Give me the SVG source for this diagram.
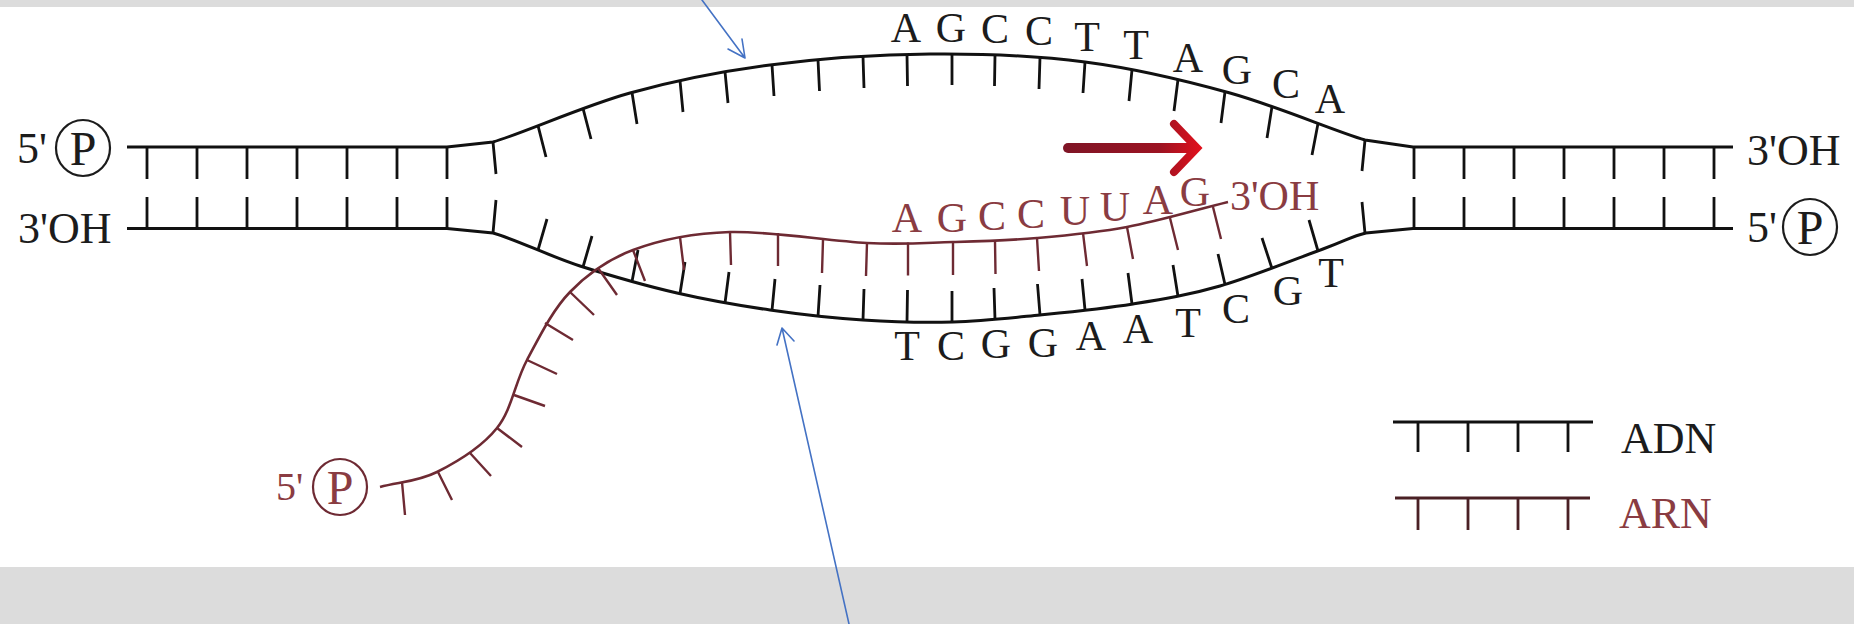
<svg xmlns="http://www.w3.org/2000/svg" width="1854" height="624" viewBox="0 0 1854 624">
  <defs>
    <style>
      .dna { stroke: #111; stroke-width: 3; fill: none; }
      .tick { stroke: #111; stroke-width: 2.8; fill: none; }
      .rna { stroke: #6e2a33; stroke-width: 2.6; fill: none; }
      .rtick { stroke: #6e2a33; stroke-width: 2.4; fill: none; }
      .txt { font-family: "Liberation Serif", "Times New Roman", serif; font-size: 44px; fill: #1c1c1c; }
      .seq { font-size: 42px; text-anchor: middle; }
      .red { fill: #8a3c42; }
      .pcirc { fill: none; stroke: #1c1c1c; stroke-width: 2.2; }
      .pcirc-r { fill: none; stroke: #6e2a33; stroke-width: 2.2; }
      .ptr { stroke: #4472c4; stroke-width: 1.6; fill: none; stroke-linecap: round; stroke-linejoin: round; }
      .band { fill: #dcdcdc; }
    </style>
    <linearGradient id="redArrow" gradientUnits="userSpaceOnUse" x1="1062" y1="0" x2="1202" y2="0">
      <stop offset="0" stop-color="#7e1526"/>
      <stop offset="0.7" stop-color="#9c1322"/>
      <stop offset="1" stop-color="#e3101c"/>
    </linearGradient>
  </defs>

  <!-- page -->
  <rect x="0" y="0" width="1854" height="624" fill="#ffffff"/>
  <rect class="band" x="0" y="0" width="1854" height="7"/>
  <rect class="band" x="0" y="567" width="1854" height="57"/>

  <!-- DNA double helix with open transcription bubble -->
  <g id="dna">
    <!-- coding strand (top) -->
    <path class="dna" d="M127,147 H447 L493,142 C523.5,133 583.8,105.8 630,93 C676.2,80.2 720,71.5 770,65 C820,58.5 877.5,54.5 930,54 C982.5,53.5 1035,55.5 1085,62 C1135,68.5 1183.3,80 1230,93 C1276.7,106 1334.5,131 1365,140 L1413,147 H1733"/>
    <!-- template strand (bottom) -->
    <path class="dna" d="M127,228.5 H447 L493,233 C515.2,239.3 549.3,256 580,266 C611.7,276 645.3,285.7 677,293 C708.7,300.3 739,305.5 770,310 C801,314.5 832.5,318 863,320 C893.5,322 923.5,322.8 953,322 C982.5,321.2 1010,318 1040,315 C1070,312 1103,308.8 1133,304 C1163,299.2 1188.3,295.2 1220,286 C1251.7,276.8 1298.7,257.8 1323,249 C1347.3,240.2 1351,236.5 1366,233 L1413,228.5 H1733"/>
    <!-- paired rungs, left and right duplex -->
    <path class="tick" d="M147,147 V179 M197,147 V179 M247,147 V179 M297,147 V179 M347,147 V179 M397,147 V179 M447,147 V179
      M147,228.5 V197 M197,228.5 V197 M247,228.5 V197 M297,228.5 V197 M347,228.5 V197 M397,228.5 V197 M447,228.5 V197
      M1414,147 V179 M1464,147 V179 M1514,147 V179 M1564,147 V179 M1614,147 V179 M1664,147 V179 M1714,147 V179
      M1414,228.5 V197 M1464,228.5 V197 M1514,228.5 V197 M1564,228.5 V197 M1614,228.5 V197 M1664,228.5 V197 M1714,228.5 V197"/>
    <!-- bases on the top strand inside the bubble -->
    <path class="tick" d="M493,142 L496,174 M538,125.7 L546,157 M583,108.3 L591,139 M632,92.5 L637,124 M680,80.7 L683,112 M725,71.6 L728,103 M772,64.8 L774,96 M818,59.8 L819.5,91 M863,56.5 L864,88 M907,54.7 L907.5,86 M952,54.2 L952,85 M995,55 L994.5,86 M1040,57.5 L1039,89 M1085,62 L1083,93 M1132,69.7 L1129,101 M1178,79.5 L1174,111 M1225,91.7 L1221,123 M1272,106.6 L1267,138 M1318,123.4 L1312,155 M1365,140 L1362,171"/>
    <!-- bases on the bottom strand inside the bubble -->
    <path class="tick" d="M493,233 L496,200 M538,250 L547,219 M583,267 L592,236 M632,281.5 L638,250 M680,293.5 L685,262 M725,303 L729,272 M772,310.3 L775,279 M818,316.5 L820,285 M863,320 L864,289 M907,321.7 L907.5,290 M952,322 L952,291 M995,319.5 L994,288 M1040,315 L1037.5,284 M1085,310 L1082,279 M1132,304 L1128,273 M1178,296.5 L1173,265 M1225,284.5 L1218,254 M1272,268.5 L1262,238 M1318,251 L1309,220 M1365,233.3 L1362,202"/>
  </g>

  <!-- nascent RNA strand -->
  <g id="rna">
    <path class="rna" d="M380,487 C399,482 417.5,481.8 437,472 C456.5,462.2 482,446.7 497,428 C512,409.3 514.8,382.7 527,360 C539.2,337.3 552.3,310.3 570,292 C587.7,273.7 606.3,260 633,250 C659.7,240 691,233.2 730,232 C769,230.8 829.8,241.3 867,243 C904.2,244.7 924.7,242.8 953,242 C981.3,241.2 1008,240.5 1037,238 C1066,235.5 1095.2,233 1127,227 C1158.8,221 1194.3,210.3 1228,202"/>
    <path class="rtick" d="M402,482 L405,515 M438,472 L452,500 M470,453 L491,476 M497,428 L522,447 M514,395 L545,406 M527,360 L557,374 M545,323 L573,340 M570,292 L594,315 M598,268 L617,295 M633,250 L645,281 M680,237 L684,270 M730,232 L731,265 M778,233 L778,266 M823,240 L822,273 M867,243 L866,276 M908,242.5 L908,275.5 M953,242 L953,275 M995,241 L995.5,274 M1037,238 L1039,271 M1083,233 L1087,266 M1127,227 L1133,259 M1170,218 L1178,250 M1213,207 L1221,239"/>
  </g>

  <!-- strand ends -->
  <g id="ends-left" class="txt">
    <text x="17" y="163">5'</text>
    <ellipse class="pcirc" cx="83" cy="148" rx="27" ry="28"/>
    <text x="83" y="165" font-size="48" text-anchor="middle">P</text>
    <text x="18" y="243">3'OH</text>
  </g>
  <g id="ends-right" class="txt">
    <text x="1747" y="165">3'OH</text>
    <text x="1747" y="242">5'</text>
    <ellipse class="pcirc" cx="1810" cy="227" rx="27" ry="28"/>
    <text x="1810" y="244" font-size="48" text-anchor="middle">P</text>
  </g>
  <g id="ends-rna" class="txt red">
    <text x="276" y="500" font-size="40">5'</text>
    <ellipse class="pcirc-r" cx="340" cy="487" rx="27" ry="28"/>
    <text x="340" y="504" font-size="48" text-anchor="middle">P</text>
    <text x="1230" y="210" font-size="42">3'OH</text>
  </g>

  <!-- base letters -->
  <g id="seq-top" class="txt seq">
    <text x="906" y="42">A</text>
    <text x="951" y="42">G</text>
    <text x="995" y="43">C</text>
    <text x="1039" y="45">C</text>
    <text x="1087" y="51">T</text>
    <text x="1136" y="59">T</text>
    <text x="1188" y="72">A</text>
    <text x="1237" y="84">G</text>
    <text x="1286" y="98">C</text>
    <text x="1330" y="113">A</text>
  </g>
  <g id="seq-bottom" class="txt seq">
    <text x="907" y="360">T</text>
    <text x="951" y="360">C</text>
    <text x="996" y="358">G</text>
    <text x="1043" y="357">G</text>
    <text x="1091" y="350">A</text>
    <text x="1138" y="343">A</text>
    <text x="1188" y="337">T</text>
    <text x="1236" y="323">C</text>
    <text x="1288" y="305">G</text>
    <text x="1331" y="287">T</text>
  </g>
  <g id="seq-rna" class="txt seq red">
    <text x="907" y="232">A</text>
    <text x="952" y="232">G</text>
    <text x="992" y="230">C</text>
    <text x="1031" y="228">C</text>
    <text x="1075" y="225">U</text>
    <text x="1115" y="221">U</text>
    <text x="1158" y="214">A</text>
    <text x="1195" y="206">G</text>
  </g>

  <!-- direction of transcription -->
  <g id="direction">
    <line x1="1068" y1="148" x2="1191" y2="148" stroke="url(#redArrow)" stroke-width="10" stroke-linecap="round"/>
    <polyline points="1174,124 1197,148 1174,172" fill="none" stroke="url(#redArrow)" stroke-width="8" stroke-linecap="round" stroke-linejoin="miter"/>
  </g>

  <!-- legend -->
  <g id="legend" class="txt">
    <path class="tick" d="M1393,422 H1593 M1418,422 V452 M1468,422 V452 M1518,422 V452 M1568,422 V452"/>
    <text x="1621" y="453">ADN</text>
    <path d="M1395,498 H1590 M1418,498 V530 M1468,498 V530 M1518,498 V530 M1568,498 V530" stroke="#4a2025" stroke-width="2.8" fill="none"/>
    <text class="red" x="1619" y="528">ARN</text>
  </g>

  <!-- pointer connectors -->
  <g id="connectors">
    <path class="ptr" d="M702,0 L745,58 M728,49 L745,58 L742,39"/>
    <path class="ptr" d="M849,624 L782,328 M777,345 L782,328 L794,341"/>
  </g>
</svg>
